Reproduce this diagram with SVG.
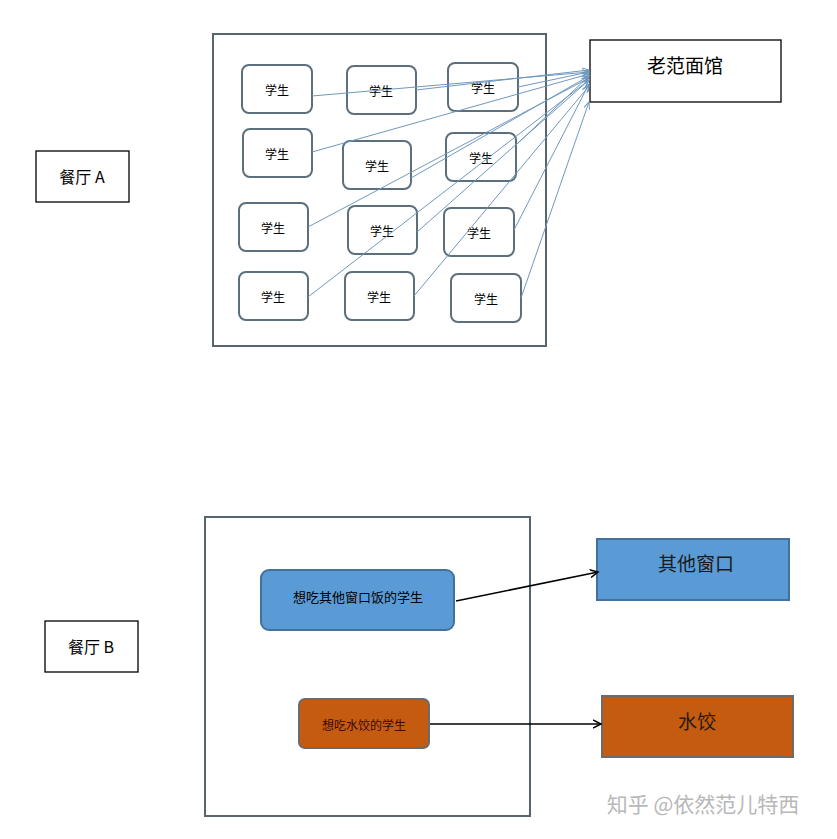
<svg xmlns="http://www.w3.org/2000/svg" width="837" height="839" viewBox="0 0 837 839">
<style>
text{font-family:"Noto Sans CJK SC","Liberation Sans",sans-serif;text-anchor:middle;dominant-baseline:central}
.frame{fill:#fff;stroke:#57666e;stroke-width:2}
.lbl{fill:#fff;stroke:#000;stroke-width:1.3}
.stu{fill:#fff;stroke:#5c6f7d;stroke-width:2}
.stu+text{font-size:12px}
.blue{stroke:#6f98bf;stroke-width:1;fill:none;marker-end:url(#ab)}
.blk{stroke:#000;stroke-width:1.5;fill:none;marker-end:url(#ak)}
</style>
<defs>
<marker id="ab" markerWidth="8" markerHeight="8" refX="7" refY="4" orient="auto" markerUnits="userSpaceOnUse"><path d="M0,1L7,4L0,7" fill="none" stroke="#6f98bf"/></marker>
<marker id="ak" markerWidth="10" markerHeight="10" refX="8" refY="5" orient="auto" markerUnits="userSpaceOnUse"><path d="M0,1L8,5L0,9" fill="none" stroke="#000" stroke-width="1.5"/></marker>
</defs>
<rect width="837" height="839" fill="#fff"/>
<g id="labelA"><rect class="lbl" x="36" y="151" width="93" height="51"/><text x="82" y="176" font-size="16">餐厅 A</text></g>
<g id="labelB"><rect class="lbl" x="45" y="621" width="93" height="51"/><text x="91" y="646" font-size="16">餐厅 B</text></g>
<g id="restA"><rect class="frame" x="213" y="34" width="333" height="312"/></g>
<g id="restB"><rect class="frame" x="205" y="517" width="325" height="299"/></g>
<g id="s1"><rect class="stu" x="242" y="65" width="70" height="48" rx="7"/><text x="277" y="89">学生</text></g>
<g id="s2"><rect class="stu" x="347" y="66" width="69" height="48" rx="7"/><text x="381" y="90">学生</text></g>
<g id="s3"><rect class="stu" x="448" y="63" width="70" height="48" rx="7"/><text x="483" y="87">学生</text></g>
<g id="s4"><rect class="stu" x="243" y="129" width="69" height="48" rx="7"/><text x="277" y="153">学生</text></g>
<g id="s5"><rect class="stu" x="343" y="141" width="68" height="48" rx="7"/><text x="377" y="165">学生</text></g>
<g id="s6"><rect class="stu" x="446" y="133" width="70" height="48" rx="7"/><text x="481" y="157">学生</text></g>
<g id="s7"><rect class="stu" x="239" y="203" width="69" height="48" rx="7"/><text x="273" y="227">学生</text></g>
<g id="s8"><rect class="stu" x="348" y="206" width="69" height="48" rx="7"/><text x="382" y="230">学生</text></g>
<g id="s9"><rect class="stu" x="444" y="208" width="70" height="48" rx="7"/><text x="479" y="232">学生</text></g>
<g id="s10"><rect class="stu" x="239" y="272" width="69" height="48" rx="7"/><text x="273" y="296">学生</text></g>
<g id="s11"><rect class="stu" x="345" y="272" width="69" height="48" rx="7"/><text x="379" y="296">学生</text></g>
<g id="s12"><rect class="stu" x="451" y="274" width="70" height="48" rx="7"/><text x="486" y="298">学生</text></g>
<g id="laofan"><rect class="lbl" x="590" y="40" width="191" height="62" stroke="#57666e"/><text x="685" y="64" font-size="19">老范面馆</text></g>
<g id="qita"><rect x="597" y="539" width="192" height="61" fill="#5b9bd5" stroke="#41719c" stroke-width="2"/><text x="696" y="562" font-size="19" fill="#1a1a1a">其他窗口</text></g>
<g id="shuijiao"><rect x="602" y="696" width="191" height="61" fill="#c55a11" stroke="#6b6b6b" stroke-width="2"/><text x="697" y="720" font-size="19" fill="#2a1a10">水饺</text></g>
<g id="stuBlue"><rect x="261" y="570" width="193" height="60" rx="8" fill="#5b9bd5" stroke="#41719c" stroke-width="2"/><text x="358" y="596" font-size="13">想吃其他窗口饭的学生</text></g>
<g id="stuOrange"><rect x="299" y="699" width="130" height="49" rx="6" fill="#c55a11" stroke="#6b6b6b" stroke-width="2"/><text x="364" y="724" font-size="12" fill="#3a0a00">想吃水饺的学生</text></g>
<g id="connectors">
<path class="blue" d="M312,96L589,72"/>
<path class="blue" d="M416,90L589,70"/>
<path class="blue" d="M518,87L589,72"/>
<path class="blue" d="M312,152L589,74"/>
<path class="blue" d="M411,178L589,76"/>
<path class="blue" d="M516,145L589,76"/>
<path class="blue" d="M308,227L589,78"/>
<path class="blue" d="M417,232L589,80"/>
<path class="blue" d="M514,230L589,84"/>
<path class="blue" d="M308,297L589,80"/>
<path class="blue" d="M414,296L589,86"/>
<path class="blue" d="M521,298L589,102"/>
<path class="blk" d="M456,601L598,572"/>
<path class="blk" d="M430,724L601,724"/>
</g>
<text x="703" y="803" font-size="21" fill="#b8b8b8">知乎 @依然范儿特西</text>
</svg>
